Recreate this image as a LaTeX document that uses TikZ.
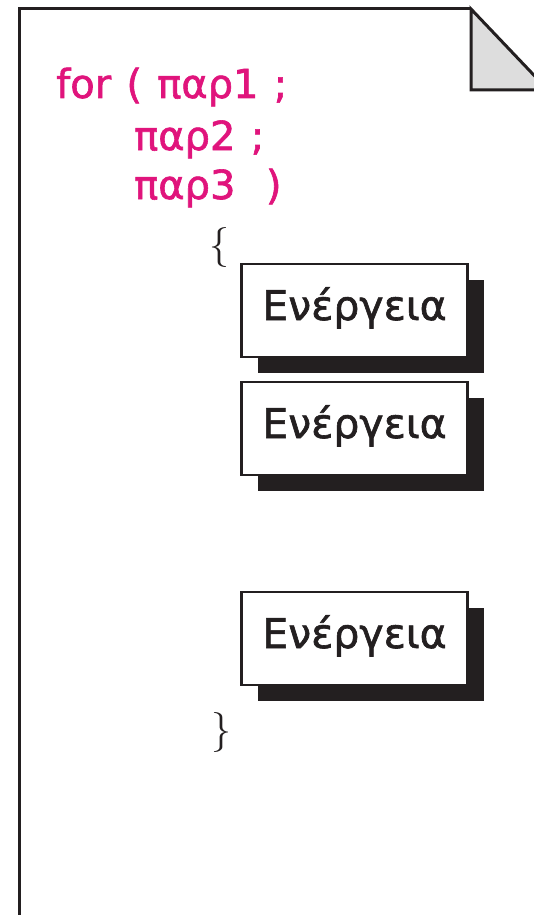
\documentclass[tikz,border=0pt]{standalone}
\usepackage{fontspec}
\newfontfamily\sansgr[FakeBold=1.5]{DejaVu Sans}
\newfontfamily\sanscode[FakeBold=1.5,WordSpace=1.2]{DejaVu Sans}
\usetikzlibrary{shadows}
\definecolor{mag}{RGB}{224,20,124}
\definecolor{ink}{RGB}{35,31,32}
\definecolor{foldgray}{RGB}{221,221,221}
\begin{document}
\begin{tikzpicture}[x=1pt,y=-1pt,
  pageline/.style={draw=ink,line width=3pt,line join=miter},
  codeline/.style={anchor=base west,text=mag,inner sep=0pt,font=\sanscode\fontsize{40}{40}\selectfont},
  brace/.style={text=ink,inner sep=0pt,font=\fontsize{40}{40}\selectfont},
  actbox/.style={draw=ink,line width=2.5pt,fill=white,minimum width=226pt,minimum height=93pt,
    inner sep=0pt,text=ink,text height=30pt,text depth=11pt,font=\sansgr\fontsize{41}{41}\selectfont,
    drop shadow={shadow xshift=16pt,shadow yshift=-16pt,fill=ink,opacity=1}}]
\useasboundingbox (0,0) rectangle (534,915);
\fill[white] (0,0) rectangle (534,915);
\begin{scope}
\clip (0,0) rectangle (534,915);
\draw[pageline] (19,930) -- (19,9) -- (471,9);
\filldraw[pageline,fill=foldgray] (471,9) -- (471,90) -- (548,90) -- cycle;
\end{scope}
\node[codeline] (l1) at (56,98) {for ( παρ1 ;};
\node[codeline] (l2) at (134,150) {παρ2 ;};
\node[codeline] (l3) at (134,199) {παρ3 \ )};
\node[brace] (ob) at (219,247) {\{};
\node[actbox] (a1) at (354.5,310.5) {Ενέργεια};
\node[actbox] (a2) at (354.5,428.5) {Ενέργεια};
\node[actbox] (a3) at (354.5,638.5) {Ενέργεια};
\node[brace] (cb) at (221,732) {\}};
\end{tikzpicture}
\end{document}
